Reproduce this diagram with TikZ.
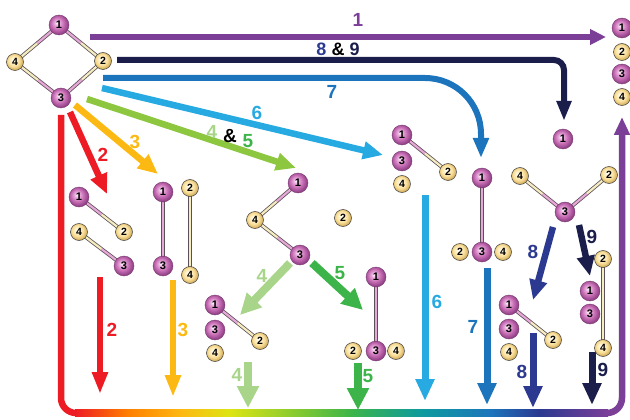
\documentclass[tikz,border=0pt]{standalone}
\usepackage{fontspec}
\setmainfont{Liberation Sans}
\usetikzlibrary{arrows.meta,calc,backgrounds}
\definecolor{cpurple}{HTML}{7B3F98}
\definecolor{cnavy}{HTML}{1B1E4B}
\definecolor{cblue7}{HTML}{1C75BC}
\definecolor{csky}{HTML}{27AAE1}
\definecolor{cgreenlong}{HTML}{8DC63F}
\definecolor{clgreen}{HTML}{A8D58A}
\definecolor{cgreen}{HTML}{3CB44A}
\definecolor{corange}{HTML}{FDB913}
\definecolor{cred}{HTML}{ED1C24}
\definecolor{cblue8}{HTML}{2B3990}
\definecolor{cyell}{HTML}{FFF200}
\definecolor{cteal}{HTML}{0D9B9E}
\definecolor{plight}{HTML}{EDB6E2}
\definecolor{pmid}{HTML}{C66CB3}
\definecolor{pdark}{HTML}{944389}
\definecolor{ylight}{HTML}{FFF4D2}
\definecolor{ymid}{HTML}{F9DE98}
\definecolor{ydark}{HTML}{D7B262}
\definecolor{bondpink}{HTML}{E6A8D8}
\definecolor{bondyel}{HTML}{F4EDC0}
\definecolor{bondedge}{HTML}{5E5058}
\pgfdeclareradialshading{pballsh}{\pgfpoint{-6bp}{6bp}}{color(0bp)=(white); color(5bp)=(plight); color(16bp)=(pmid); color(25bp)=(pdark); color(50bp)=(pdark)}
\pgfdeclareradialshading{yballsh}{\pgfpoint{-6bp}{6bp}}{color(0bp)=(white); color(6bp)=(ylight); color(17bp)=(ymid); color(25bp)=(ydark); color(50bp)=(ydark)}
\pgfdeclarehorizontalshading{rainbowsh}{100bp}{color(0bp)=(cred); color(25bp)=(cred); color(30bp)=(orange); color(35bp)=(corange); color(39.5bp)=(cyell!70!cgreenlong); color(51bp)=(cgreen); color(57.5bp)=(cteal); color(64bp)=(cblue7); color(68.5bp)=(cblue8); color(75bp)=(cpurple); color(100bp)=(cpurple)}
\tikzset{
  patom/.style={circle, minimum size=20pt, inner sep=0pt, shade, shading=pballsh, draw=pdark!80!black, line width=0.4pt, font=\bfseries\fontsize{11}{11}\selectfont},
  yatom/.style={circle, minimum size=17pt, inner sep=0pt, shade, shading=yballsh, draw=black!75, line width=0.5pt, font=\bfseries\fontsize{10.5}{10.5}\selectfont},
  arr/.style={line width=6.5pt, -{Triangle[width=17pt,length=20pt]}},
  lab/.style={font=\bfseries\fontsize{19}{19}\selectfont, inner sep=0pt},
  loopline/.style={line width=6.5pt},
}
\newcommand\pat[3]{\node[patom] (#1) at (#2) {#3};}
\newcommand\yat[3]{\node[yatom] (#1) at (#2) {#3};}
\newcommand\bnd[4]{%
  \draw[line width=3.8pt, bondedge] (#1.center) -- (#2.center);
  \draw[line width=2.2pt, #3] (#1.center) -- ($(#1.center)!0.5!(#2.center)$);
  \draw[line width=2.2pt, #4] ($(#1.center)!0.5!(#2.center)$) -- (#2.center);}
\begin{document}
\begin{tikzpicture}[x=1pt,y=-1pt]
\useasboundingbox (0,0) rectangle (630,420);
% ---------- arrow end points
\coordinate (s1) at (90,37);   \coordinate (e1) at (606,37);
\coordinate (s89) at (117,60); \coordinate (e89) at (564,121);
\coordinate (s7) at (103,78);  \coordinate (k7) at (425,78); \coordinate (e7) at (481,158);
\coordinate (s6) at (102,88);  \coordinate (e6) at (383,155);
\coordinate (s45) at (87,99);  \coordinate (e45) at (296,168);
\coordinate (s3) at (75,105);  \coordinate (e3) at (158,174);
\coordinate (s2) at (70,112);  \coordinate (e2) at (107,194);
\coordinate (d2a) at (100,277); \coordinate (d2b) at (100,394);
\coordinate (d3a) at (173,280); \coordinate (d3b) at (173,397);
\coordinate (d4a) at (248,362); \coordinate (d4b) at (248,408);
\coordinate (d5a) at (358,363); \coordinate (d5b) at (358,410);
\coordinate (d6a) at (425,195); \coordinate (d6b) at (425,401);
\coordinate (d7a) at (487,268); \coordinate (d7b) at (487,405);
\coordinate (d8a) at (533,333); \coordinate (d8b) at (533,408);
\coordinate (d9a) at (592,352); \coordinate (d9b) at (592,405);
\coordinate (g4a) at (290,263); \coordinate (g4b) at (240,315);
\coordinate (g5a) at (312,263); \coordinate (g5b) at (363,310);
\coordinate (g8a) at (553,227); \coordinate (g8b) at (533,300);
\coordinate (g9a) at (579,225); \coordinate (g9b) at (590,276);
\coordinate (La) at (61,115); \coordinate (Lb) at (61,398); \coordinate (Lc) at (76,413);
\coordinate (Ld) at (607,413); \coordinate (Le) at (622,398); \coordinate (Lf) at (622,117);
% ---------- loop
\draw[loopline, cred] (La) -- (Lb) .. controls (61,406.3) and (67.7,413) .. (Lc);
\shade[shading=rainbowsh] (75,409.75) rectangle (608,416.25);
\draw[loopline, cpurple, -{Triangle[width=15pt,length=18pt]}] (Ld) .. controls (615.3,413) and (622,406.3) .. (Le) -- (Lf);
% ---------- arrows from the first molecule
\draw[arr, cpurple, line width=6.5pt, -{Triangle[width=15pt,length=16pt]}] (s1) -- (e1);
\draw[arr, cnavy, line width=6pt, -{Triangle[width=14pt,length=20pt]}, rounded corners=10pt] (s89) -| (e89);
\draw[arr, cblue7, line width=6pt, -{Triangle[width=15pt,length=20pt]}] (s7) -- (k7) .. controls (456,78) and (481,103) .. (481,134) -- (e7);
\draw[arr, csky] (s6) -- (e6);
\draw[arr, cgreenlong] (s45) -- (e45);
\draw[arr, corange] (s3) -- (e3);
\draw[arr, cred] (s2) -- (e2);
% ---------- second-stage arrows
\draw[arr, clgreen, line width=8pt, -{Triangle[width=20pt,length=21pt]}] (g4a) -- (g4b);
\draw[arr, cgreen, line width=8pt, -{Triangle[width=20pt,length=21pt]}] (g5a) -- (g5b);
\draw[arr, cblue8] (g8a) -- (g8b);
\draw[arr, cnavy] (g9a) -- (g9b);
% ---------- down arrows
\draw[arr, cred, line width=6pt, -{Triangle[width=15pt,length=22pt]}] (d2a) -- (d2b);
\draw[arr, corange, line width=6pt, -{Triangle[width=15pt,length=22pt]}] (d3a) -- (d3b);
\draw[arr, clgreen, line width=8pt, -{Triangle[width=21pt,length=22pt]}] (d4a) -- (d4b);
\draw[arr, cgreen, line width=8pt, -{Triangle[width=21pt,length=22pt]}] (d5a) -- (d5b);
\draw[arr, csky, line width=7pt, -{Triangle[width=18pt,length=22pt]}] (d6a) -- (d6b);
\draw[arr, cblue7, line width=7pt, -{Triangle[width=18pt,length=22pt]}] (d7a) -- (d7b);
\draw[arr, cblue8, line width=7pt, -{Triangle[width=18pt,length=22pt]}] (d8a) -- (d8b);
\draw[arr, cnavy, line width=7pt, -{Triangle[width=18pt,length=22pt]}] (d9a) -- (d9b);
% ---------- labels
\node[lab, cpurple] (l1) at (358,20) {1};
\node[lab, font=\bfseries\fontsize{18}{18}\selectfont] (l89) at (338,49) {\textcolor{cblue8}{8} \& \textcolor{cnavy}{9}};
\node[lab, cblue7] (l7) at (332,92) {7};
\node[lab, csky] (l6) at (257,113) {6};
\node[lab, clgreen] (l45a) at (212,132) {4};
\node[lab, black] (l45b) at (230,136) {\&};
\node[lab, cgreen] (l45c) at (248,141) {5};
\node[lab, corange] (l3) at (135,142) {3};
\node[lab, cred] (l2) at (103,155) {2};
\node[lab, clgreen] (lg4) at (262,276) {4};
\node[lab, cgreen] (lg5) at (340,273) {5};
\node[lab, cblue8] (lg8) at (533,252) {8};
\node[lab, cnavy] (lg9) at (592,237) {9};
\node[lab, cred] (ld2) at (112,330) {2};
\node[lab, corange] (ld3) at (183,330) {3};
\node[lab, clgreen] (ld4) at (237,375) {4};
\node[lab, cgreen] (ld5) at (368,376) {5};
\node[lab, csky] (ld6) at (437,302) {6};
\node[lab, cblue7] (ld7) at (473,327) {7};
\node[lab, cblue8] (ld8) at (522,372) {8};
\node[lab, cnavy] (ld9) at (603,370) {9};
% ---------- atoms
\pat{m0a1}{59,25}{1} \yat{m0a2}{103,61}{2} \pat{m0a3}{61,98}{3} \yat{m0a4}{15,62}{4}
\pat{m1a1}{622,28}{1} \yat{m1a2}{622,52}{2} \pat{m1a3}{622,74}{3} \yat{m1a4}{622,97}{4}
\pat{m2a1}{563,139}{1} \yat{m2a4}{520,176}{4} \yat{m2a2}{609,175}{2} \pat{m2a3}{565,212}{3}
\pat{m3a1}{482,178}{1} \pat{m3a3}{482,252}{3} \yat{m3a2}{460,252}{2} \yat{m3a4}{503,252}{4}
\pat{m4a1}{402,135}{1} \pat{m4a3}{402,161}{3} \yat{m4a4}{402,184}{4} \yat{m4a2}{448,172}{2}
\pat{m5a1}{298,183}{1} \yat{m5a4}{255,220}{4} \pat{m5a3}{300,255}{3} \yat{m5a2}{343,218}{2}
\pat{m6a1}{79,197}{1} \yat{m6a2}{124,232}{2} \yat{m6a4}{79,232}{4} \pat{m6a3}{124,266}{3}
\pat{m7a1}{163,192}{1} \pat{m7a3}{163,266}{3} \yat{m7a2}{190,188}{2} \yat{m7a4}{190,275}{4}
\pat{m8a1}{215,305}{1} \pat{m8a3}{215,330}{3} \yat{m8a4}{215,353}{4} \yat{m8a2}{260,341}{2}
\pat{m9a1}{376,277}{1} \pat{m9a3}{376,351}{3} \yat{m9a2}{353,351}{2} \yat{m9a4}{396,351}{4}
\pat{m10a1}{509,305}{1} \pat{m10a3}{509,329}{3} \yat{m10a4}{509,352}{4} \yat{m10a2}{553,340}{2}
\yat{m11a2}{603,259}{2} \yat{m11a4}{603,348}{4} \pat{m11a1}{590,291}{1} \pat{m11a3}{590,314}{3}
% ---------- bonds
\begin{pgfonlayer}{background}
\bnd{m0a1}{m0a2}{bondpink}{bondyel}
\bnd{m0a3}{m0a2}{bondpink}{bondyel}
\bnd{m0a3}{m0a4}{bondpink}{bondyel}
\bnd{m0a1}{m0a4}{bondpink}{bondyel}
\bnd{m2a3}{m2a4}{bondpink}{bondyel}
\bnd{m2a3}{m2a2}{bondpink}{bondyel}
\bnd{m3a1}{m3a3}{bondpink}{bondpink}
\bnd{m4a1}{m4a2}{bondpink}{bondyel}
\bnd{m5a1}{m5a4}{bondpink}{bondyel}
\bnd{m5a3}{m5a4}{bondpink}{bondyel}
\bnd{m6a1}{m6a2}{bondpink}{bondyel}
\bnd{m6a3}{m6a4}{bondpink}{bondyel}
\bnd{m7a1}{m7a3}{bondpink}{bondpink}
\bnd{m7a2}{m7a4}{bondyel}{bondyel}
\bnd{m8a1}{m8a2}{bondpink}{bondyel}
\bnd{m9a1}{m9a3}{bondpink}{bondpink}
\bnd{m10a1}{m10a2}{bondpink}{bondyel}
\bnd{m11a2}{m11a4}{bondyel}{bondyel}
\end{pgfonlayer}
\end{tikzpicture}
\end{document}
